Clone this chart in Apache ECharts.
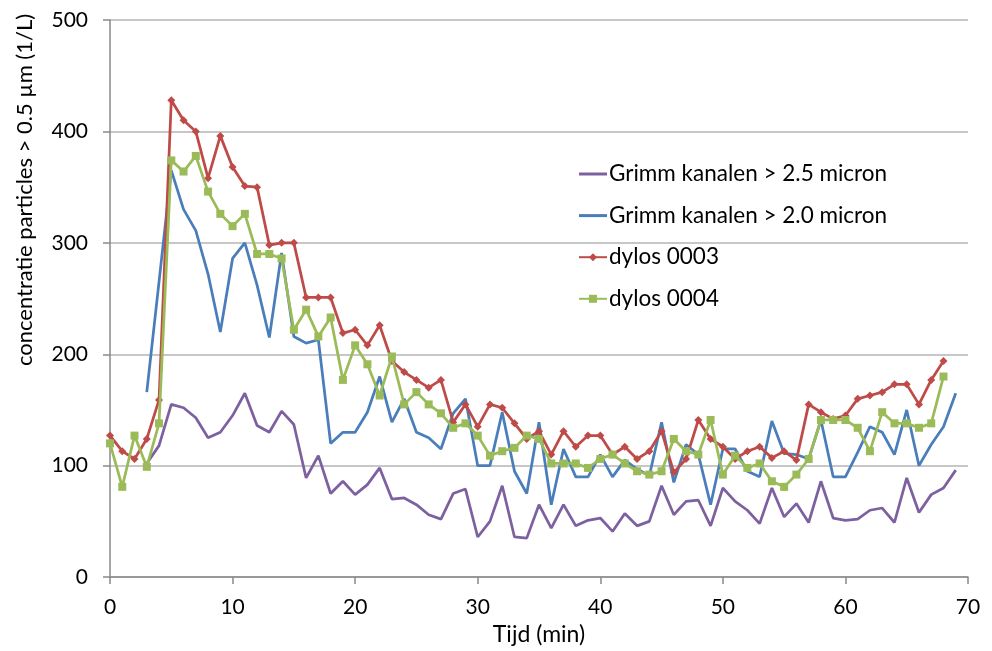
<!DOCTYPE html>
<html>
<head>
<meta charset="utf-8">
<script src="https://cdn.jsdelivr.net/npm/echarts@6/dist/echarts.min.js"></script>
<style>
  html, body { margin: 0; padding: 0; background: #fff; }
  #chart { width: 992px; height: 651px; }
</style>
</head>
<body>
<div id="chart"></div>
<script>
// Time in minutes
const minutes = [0,1,2,3,4,5,6,7,8,9,10,11,12,13,14,15,16,17,18,19,20,21,22,23,24,25,26,27,28,29,30,31,32,33,34,35,36,37,38,39,40,41,42,43,44,45,46,47,48,49,50,51,52,53,54,55,56,57,58,59,60,61,62,63,64,65,66,67,68,69];

// Grimm channels > 2.5 micron (starts at minute 3)
const grimm25 = [null,null,null,102,118,155,152,143,125,130,145,165,136,130,149,137,89,109,75,86,74,83,98,70,71,65,56,52,75,79,36,50,82,36,35,65,44,65,46,51,53,41,57,46,50,82,56,68,69,46,80,68,60,48,80,54,66,49,86,53,51,52,60,62,49,89,58,74,80,96];

// Grimm channels > 2.0 micron (starts at minute 3)
const grimm20 = [null,null,null,166,265,365,330,311,272,220,286,300,262,215,291,216,210,213,120,130,130,148,180,139,160,130,125,115,147,160,100,100,148,95,75,139,65,115,90,90,110,90,105,97,91,139,85,119,110,65,115,115,95,90,140,111,110,106,141,90,90,112,135,130,110,150,100,119,135,165];

// Dylos 0003 (ends at minute 68)
const dylos0003 = [127,113,106,124,159,428,410,400,358,396,368,351,350,298,300,300,251,251,251,219,222,208,226,194,184,177,170,177,139,155,135,155,152,138,124,131,110,131,117,127,127,110,117,106,113,131,94,106,141,124,117,106,113,117,107,113,105,155,148,142,145,160,163,166,173,173,155,177,194,null];

// Dylos 0004 (ends at minute 68)
const dylos0004 = [120,81,127,99,138,374,364,378,346,326,315,326,290,290,286,222,240,216,233,177,208,191,163,198,155,166,155,147,134,138,127,109,113,116,127,124,102,102,102,98,106,110,102,95,92,95,124,113,110,141,92,109,98,102,86,81,92,106,141,141,141,134,113,148,138,138,134,138,180,null];

const seriesNames = ['Grimm kanalen > 2.5 micron', 'Grimm kanalen > 2.0 micron', 'dylos 0003', 'dylos 0004'];
const yTicks = [0, 100, 200, 300, 400, 500];
const xTicks = [0, 10, 20, 30, 40, 50, 60, 70];
const yTitle = 'concentratie particles > 0.5 µm (1/L)';
const xTitle = 'Tijd (min)';

const pairs = (vals) => minutes.map((m, i) => [m, vals[i]]);

const FONT = 'Lato';
const AXIS_GREY = '#898989';
const lineIcon = 'path://M0,0 L28,0 L28,3 L0,3 Z';

const chart = echarts.init(document.getElementById('chart'), null, { renderer: 'canvas' });

chart.setOption({
  animation: false,
  backgroundColor: '#ffffff',
  textStyle: { fontFamily: FONT, color: '#000' },
  grid: { left: 110, right: 24, top: 20, bottom: 72, containLabel: false },
  legend: {
    orient: 'vertical',
    left: 578,
    top: 162,
    padding: 0,
    itemWidth: 28,
    itemHeight: 10,
    itemGap: 17.6,
    textStyle: { fontFamily: FONT, fontSize: 22.5, lineHeight: 24, color: '#000', padding: [0, 0, 0, -3] },
    data: [
      { name: seriesNames[0], icon: lineIcon },
      { name: seriesNames[1], icon: lineIcon },
      { name: seriesNames[2] },
      { name: seriesNames[3] }
    ]
  },
  graphic: [{
    type: 'text',
    x: 25,
    y: 190,
    rotation: Math.PI / 2,
    style: {
      text: yTitle,
      fontFamily: FONT,
      fontSize: 22,
      fill: '#000',
      align: 'center',
      verticalAlign: 'middle'
    }
  }],
  xAxis: {
    type: 'value',
    min: xTicks[0],
    max: xTicks[xTicks.length - 1],
    interval: 10,
    name: xTitle,
    nameLocation: 'middle',
    nameGap: 45,
    nameTextStyle: { fontFamily: FONT, fontSize: 23, color: '#000' },
    axisLine: { show: true, lineStyle: { color: AXIS_GREY, width: 1.5 } },
    axisTick: { show: true, length: 7, lineStyle: { color: AXIS_GREY, width: 1.5 } },
    axisLabel: { fontFamily: FONT, fontSize: 21, color: '#000', margin: 20 },
    splitLine: { show: false }
  },
  yAxis: {
    type: 'value',
    min: yTicks[0],
    max: yTicks[yTicks.length - 1],
    interval: 100,
    axisLine: { show: true, lineStyle: { color: AXIS_GREY, width: 1.5 } },
    axisTick: { show: true, length: 7, lineStyle: { color: AXIS_GREY, width: 1.5 } },
    axisLabel: { fontFamily: FONT, fontSize: 21, color: '#000', margin: 22 },
    splitLine: { show: true, lineStyle: { color: '#b4b4b4', width: 1.5 } }
  },
  series: [
    {
      name: seriesNames[0], type: 'line', data: pairs(grimm25),
      showSymbol: false, symbol: 'none', connectNulls: false,
      lineStyle: { color: '#7D60A0', width: 2.75 }, itemStyle: { color: '#7D60A0' }, z: 2
    },
    {
      name: seriesNames[1], type: 'line', data: pairs(grimm20),
      showSymbol: false, symbol: 'none', connectNulls: false,
      lineStyle: { color: '#4A7EBB', width: 2.75 }, itemStyle: { color: '#4A7EBB' }, z: 3
    },
    {
      name: seriesNames[2], type: 'line', data: pairs(dylos0003),
      symbol: 'diamond', symbolSize: 8, showSymbol: true,
      lineStyle: { color: '#BE4B48', width: 2.75 }, itemStyle: { color: '#BE4B48' }, z: 4
    },
    {
      name: seriesNames[3], type: 'line', data: pairs(dylos0004),
      symbol: 'rect', symbolSize: 8, showSymbol: true,
      lineStyle: { color: '#9BBB59', width: 2.75 }, itemStyle: { color: '#9BBB59' }, z: 5
    }
  ]
});
</script>
</body>
</html>
